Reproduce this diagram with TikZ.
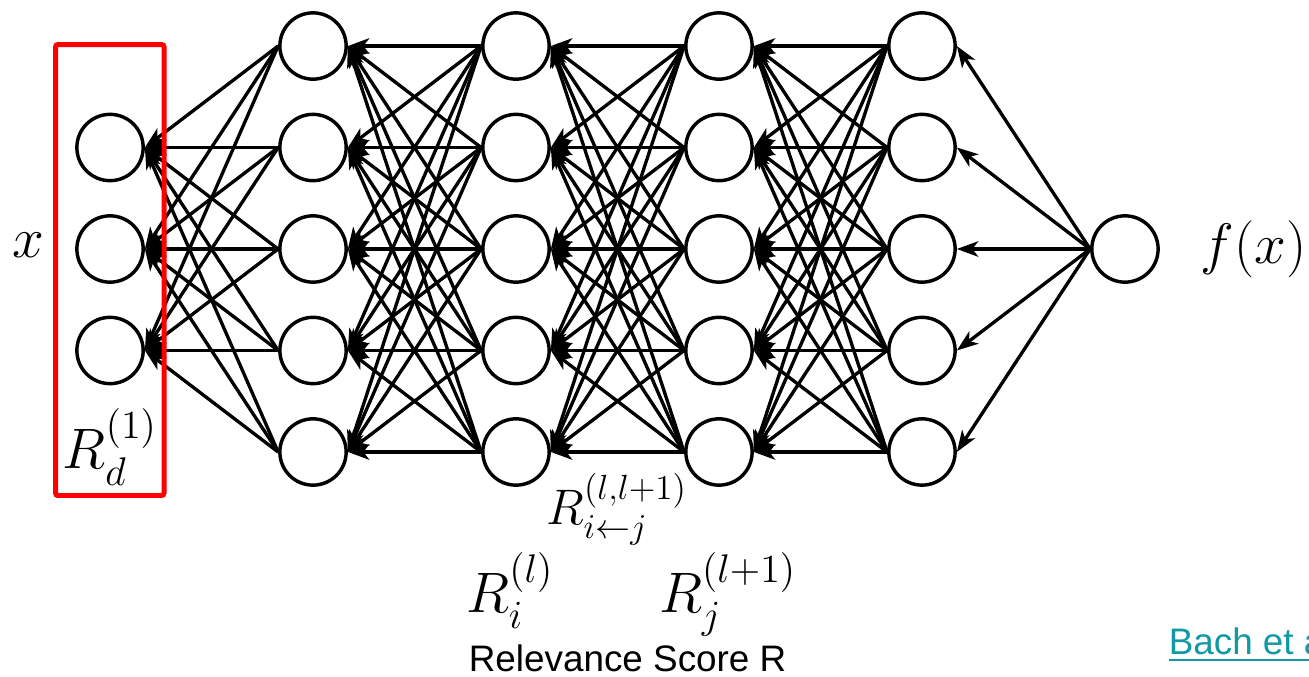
\RequirePackage{fix-cm}
\documentclass[tikz,border=0pt]{standalone}
\usepackage{amsmath}
\usepackage{fontspec}
\newfontfamily\labelfont{Liberation Sans}
\usetikzlibrary{arrows.meta}
\definecolor{linkteal}{RGB}{17,153,166}
\tikzset{
    neuron/.style={circle, draw, line width=1.45pt, minimum size=0.98cm, inner sep=0pt},
    relevance/.style={line width=1.4pt, -{Stealth[length=9pt,width=6.5pt,inset=2.5pt]}},
    mathlabel/.style={inner sep=0pt, anchor=base, font=\fontsize{24}{29}\selectfont}
}

\begin{document}
\begin{tikzpicture}
\useasboundingbox (-1.626,-6.311) rectangle (17.72,3.680);

% input layer
\foreach \j in {1,2,3}
    \node[neuron] (n-0-\j) at (0,{(2-\j)*1.5}) {};
% hidden layers
\foreach \k in {1,...,4}
    \foreach \j in {1,...,5}
        \node[neuron] (n-\k-\j) at ({3*\k},{(3-\j)*1.5}) {};
% output
\node[neuron] (n-5-1) at (15,0) {};

% relevance runs backwards
\foreach \j in {1,...,5}
    \foreach \i in {1,2,3}
        \draw[relevance] (n-1-\j.west) -- (n-0-\i.east);
\foreach \k in {1,2,3} {
    \pgfmathtruncatemacro\nxt{\k+1}
    \foreach \j in {1,...,5}
        \foreach \i in {1,...,5}
            \draw[relevance] (n-\nxt-\j.west) -- (n-\k-\i.east);
}
\foreach \i in {1,...,5}
    \draw[relevance] (n-5-1.west) -- (n-4-\i.east);

\draw[red, line width=2.1pt, rounded corners=1pt] (-0.805,3.022) rectangle (0.798,-3.643);

\node[mathlabel] (xin) at (-1.212,-0.133) {$x$};
\node[mathlabel] (fout) at (16.90,-0.217) {$f(x)$};
\node[mathlabel] (Rd) at (0,-3.237) {$R_d^{(1)}$};
\node[mathlabel, font=\fontsize{21}{25}\selectfont] (Rij) at (7.49,-4.079) {$R_{i\leftarrow j}^{(l,l+1)}$};
\node[mathlabel] (Ri) at (5.91,-5.365) {$R_i^{(l)}$};
\node[mathlabel] (Rj) at (9.13,-5.365) {$R_j^{(l+1)}$};
\node[inner sep=0pt, anchor=base, font=\labelfont\fontsize{15.5}{18}\selectfont] (title) at (7.65,-6.25) {Relevance Score R};
\node[inner sep=0pt, anchor=base west, text=linkteal, font=\labelfont\fontsize{15.5}{18}\selectfont] (cite) at (15.64,-6.0) {\underline{Bach et al.}};
\end{tikzpicture}
\end{document}
